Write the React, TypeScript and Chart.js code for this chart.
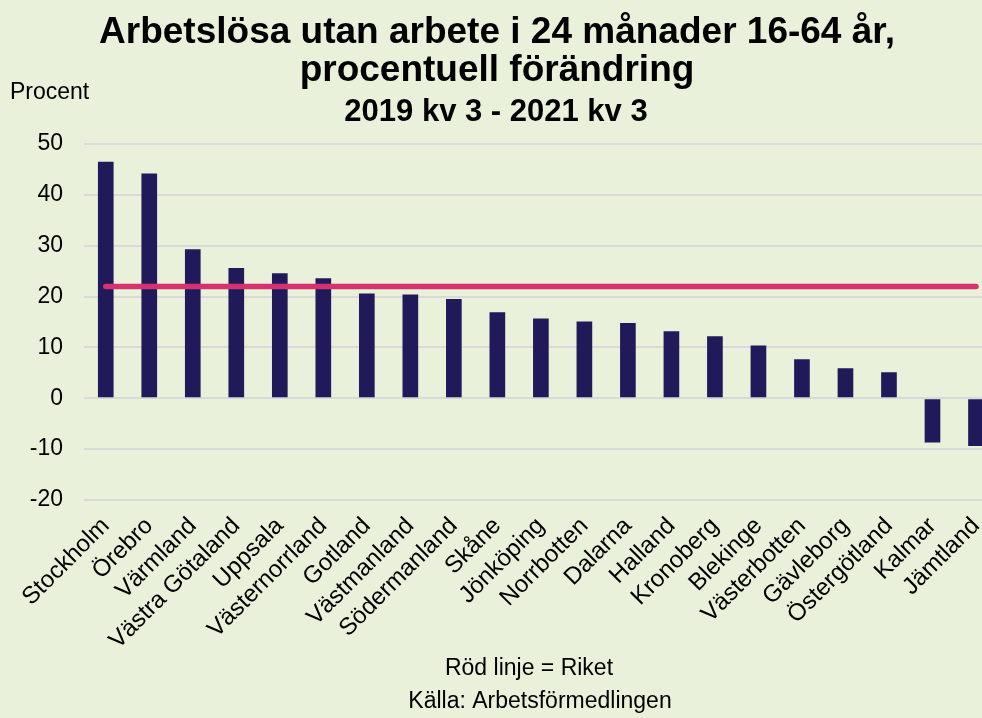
import React, { useEffect, useRef } from "react";
import { Chart, registerables } from "chart.js";

Chart.register(...registerables);

const LAN = [
  "Stockholm", "Örebro", "Värmland", "Västra Götaland", "Uppsala", "Västernorrland",
  "Gotland", "Västmanland", "Södermanland", "Skåne", "Jönköping", "Norrbotten",
  "Dalarna", "Halland", "Kronoberg", "Blekinge", "Västerbotten", "Gävleborg",
  "Östergötland", "Kalmar", "Jämtland",
];
const FORANDRING = [
  46.5, 44.2, 29.3, 25.6, 24.6, 23.6, 20.6, 20.4, 19.5, 16.9, 15.7, 15.1,
  14.8, 13.2, 12.2, 10.4, 7.7, 5.9, 5.1, -8.7, -9.4,
];
const RIKET = 22.0;
const Y_MIN = -20;
const Y_MAX = 50;
const Y_STEP = 10;
const TITLE = ["Arbetslösa utan arbete i 24 månader 16-64 år,", "procentuell förändring"];
const SUBTITLE = "2019 kv 3 - 2021 kv 3";
const Y_LABEL = "Procent";
const NOTES = ["Röd linje = Riket", "Källa: Arbetsförmedlingen"];

const FONT = "'Liberation Sans', Arial, sans-serif";
const BG = "#EAF1DA";
const W = 1010;
const H = 718;

const textPlugin = {
  id: "texts",
  afterDraw(chart: any) {
    const ctx = chart.ctx;
    ctx.save();
    ctx.fillStyle = "#000";
    ctx.textBaseline = "alphabetic";
    ctx.textAlign = "center";
    ctx.font = `bold 37px ${FONT}`;
    ctx.fillText(TITLE[0], 497, 43);
    ctx.fillText(TITLE[1], 497, 81);
    ctx.font = `bold 31px ${FONT}`;
    ctx.fillText(SUBTITLE, 496, 121);
    ctx.font = `23px ${FONT}`;
    ctx.textAlign = "left";
    ctx.fillText(Y_LABEL, 10, 99);
    ctx.textAlign = "center";
    ctx.fillText(NOTES[0], 529, 675);
    ctx.fillText(NOTES[1], 540, 708);
    ctx.restore();
  },
};

const bgPlugin = {
  id: "bg",
  beforeDraw(chart: any) {
    const ctx = chart.ctx;
    ctx.save();
    ctx.fillStyle = BG;
    ctx.fillRect(0, 0, chart.width, chart.height);
    ctx.restore();
  },
};

export default function App() {
  const ref = useRef<HTMLCanvasElement | null>(null);
  useEffect(() => {
    if (!ref.current) return;
    const chart = new Chart(ref.current, {
      type: "bar",
      data: {
        labels: LAN,
        datasets: [
          {
            type: "line",
            label: "Riket",
            data: LAN.map(() => RIKET),
            borderColor: "#D3346F",
            borderWidth: 5.5,
            borderCapStyle: "round",
            pointRadius: 0,
            order: 0,
          } as any,
          {
            type: "bar",
            label: "Förändring",
            data: FORANDRING,
            backgroundColor: "#211A5A",
            barPercentage: 0.36,
            categoryPercentage: 1,
            order: 1,
          },
        ],
      },
      options: {
        responsive: false,
        animation: false,
        devicePixelRatio: 1,
        layout: { padding: { top: 144, right: W - 997.75, left: 0, bottom: 0 } },
        plugins: { legend: { display: false }, tooltip: { enabled: false }, title: { display: false } },
        scales: {
          x: {
            offset: true,
            grid: { display: false, drawTicks: false },
            border: { display: false },
            ticks: {
              color: "#000",
              font: { family: FONT, size: 24 },
              maxRotation: 45,
              minRotation: 45,
              autoSkip: false,
              padding: 12,
            },
            afterFit(scale: any) {
              scale.height = H - 500;
            },
          },
          y: {
            min: Y_MIN,
            max: Y_MAX,
            grid: { color: "#D9D9D9", lineWidth: 2, drawTicks: false },
            border: { display: false },
            ticks: {
              stepSize: Y_STEP,
              color: "#000",
              font: { family: FONT, size: 23 },
              padding: 21,
            },
            afterFit(scale: any) {
              scale.width = 84;
            },
          },
        },
      },
      plugins: [bgPlugin, textPlugin],
    });
    return () => chart.destroy();
  }, []);
  return (
    <div style={{ position: "fixed", left: 0, top: 0, width: 982, height: 718, overflow: "hidden", background: BG }}>
      <canvas ref={ref} width={W} height={H} style={{ width: W, height: H, display: "block" }} />
    </div>
  );
}
